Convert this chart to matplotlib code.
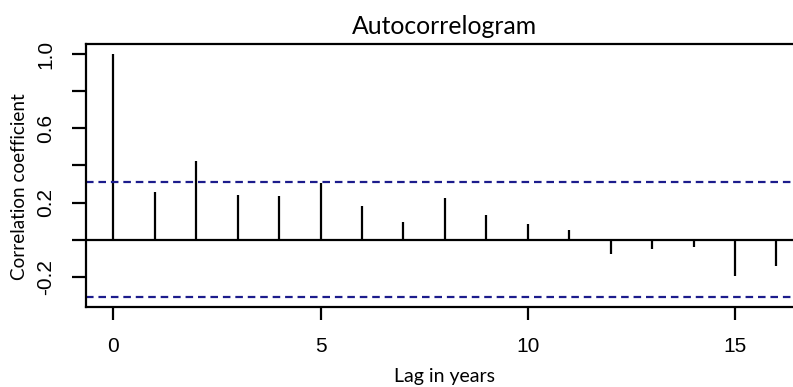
import numpy as np
import matplotlib
matplotlib.use("Agg")
import matplotlib.pyplot as plt

# ACF values
lags = [0, 1, 2, 3, 4, 5, 6, 7, 8, 9, 10, 11, 12, 13, 14, 15, 16]
acf_values = [1.0, 0.256, 0.423, 0.241, 0.234, 0.305, 0.18, 0.095, 0.227,
              0.135, 0.083, 0.05, -0.079, -0.049, -0.042, -0.195, -0.14]
ci_level = 0.31

x_ticks = [0, 5, 10, 15]
y_ticks = [-0.2, 0.2, 0.6, 1.0]
y_minor = [0.0, 0.4, 0.8]

W, H = 793, 387
fig = plt.figure(figsize=(W / 100, H / 100), dpi=100)

# axes box in pixels; right edge runs past the image, as in the reference
left, right, top, bottom = 86, 803, 44, 307
ax = fig.add_axes([left / W, 1 - bottom / H, (right - left) / W, (bottom - top) / H])

ax.vlines(lags, 0, acf_values, color="black", linewidth=1.6)
ax.axhline(0, color="black", linewidth=1.6)
for lvl in (ci_level, -ci_level):
    ax.axhline(lvl, color="#1c1c8c", linewidth=1.6, linestyle=(0, (3.4, 2.2)))

ax.set_xlim(-0.66, 16.64)
ax.set_ylim(-0.364, 1.056)

ax.set_xticks(x_ticks)
ax.set_xticklabels([str(t) for t in x_ticks], fontfamily="Liberation Sans", fontsize=15)
ax.set_yticks(sorted(y_ticks + y_minor))
ax.set_yticklabels(["-0.2", "", "0.2", "", "0.6", "", "1.0"],
                   fontfamily="Liberation Sans", fontsize=15,
                   rotation=90, va="center")
ax.tick_params(axis="x", direction="out", length=9.5, width=1.6, pad=12)
ax.tick_params(axis="y", direction="out", length=10, width=1.6, pad=12)

for side in ("left", "top", "bottom"):
    ax.spines[side].set_linewidth(1.6)
ax.spines["right"].set_visible(False)

ax.set_title("Autocorrelogram", fontfamily="Lato", fontsize=17.8, pad=7)
ax.set_xlabel("Lag in years", fontfamily="Lato", fontsize=14, labelpad=9)
fig.text(20 / W, 1 - 187 / H, "Correlation coefficient", fontfamily="Lato",
         fontsize=13.6, rotation=90, ha="center", va="center")

fig.savefig("out.png", dpi=100)
